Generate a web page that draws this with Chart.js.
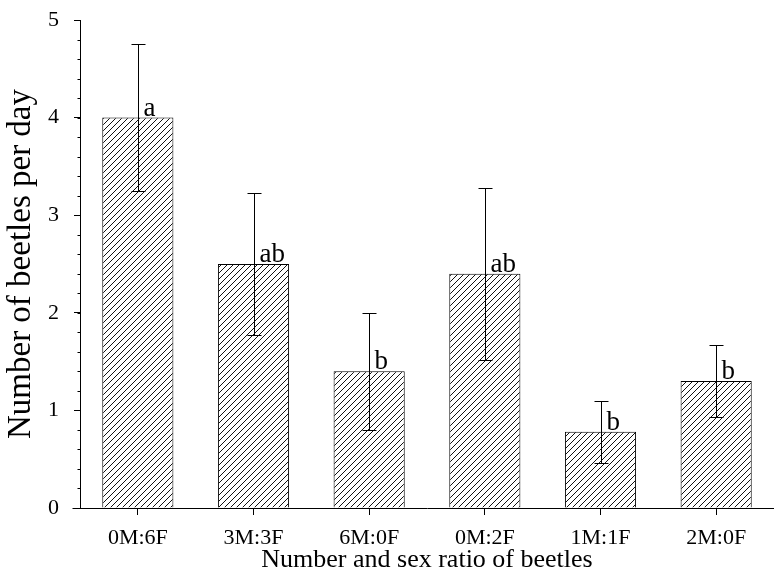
<!DOCTYPE html>
<html>
<head>
<meta charset="utf-8">
<script src="https://cdn.jsdelivr.net/npm/chart.js@4/dist/chart.umd.min.js"></script>
<style>
html,body{margin:0;padding:0;background:#fff;}
#wrap{width:774px;height:578px;}
</style>
</head>
<body>
<div id="wrap"><canvas id="c" width="774" height="578"></canvas></div>
<script>
const categories = ['0M:6F', '3M:3F', '6M:0F', '0M:2F', '1M:1F', '2M:0F'];
const means = [4.0, 2.5, 1.4, 2.4, 0.78, 1.3];
const errors = [0.75, 0.73, 0.6, 0.88, 0.32, 0.37];
const letters = ['a', 'ab', 'b', 'ab', 'b', 'b'];
const yTicks = [0, 1, 2, 3, 4, 5];

const SERIF = '"Liberation Serif", "Times New Roman", serif';

function hatch() {
  const s = 6;
  const p = document.createElement('canvas');
  p.width = s; p.height = s;
  const g = p.getContext('2d');
  g.fillStyle = '#fff';
  g.fillRect(0, 0, s, s);
  g.strokeStyle = '#111';
  g.lineWidth = 1;
  g.beginPath();
  g.moveTo(0, s); g.lineTo(s, 0);
  g.moveTo(-s / 2, s / 2); g.lineTo(s / 2, -s / 2);
  g.moveTo(s / 2, s * 1.5); g.lineTo(s * 1.5, s / 2);
  g.stroke();
  return document.getElementById('c').getContext('2d').createPattern(p, 'repeat');
}

const extras = {
  id: 'extras',
  afterDatasetsDraw(chart) {
    const ctx = chart.ctx;
    const ys = chart.scales.y;
    const meta = chart.getDatasetMeta(0);
    ctx.save();
    ctx.strokeStyle = '#000';
    ctx.lineWidth = 1;
    const x0 = Math.round(chart.chartArea.left) + 0.5;
    // minor ticks on y axis
    for (let k = 0; k <= 25; k++) {
      const y = Math.round(ys.getPixelForValue(k / 5)) + 0.5;
      ctx.beginPath(); ctx.moveTo(x0 - 3, y); ctx.lineTo(x0, y); ctx.stroke();
    }
    // extend x axis line left of y axis
    const yb = Math.round(ys.getPixelForValue(0)) + 0.5;
    ctx.beginPath(); ctx.moveTo(x0 - 8, yb); ctx.lineTo(x0, yb); ctx.stroke();
    // error bars + significance letters
    const cap = 7;
    meta.data.forEach((bar, i) => {
      const x = Math.round(bar.x) + 0.5;
      const yt = Math.round(ys.getPixelForValue(means[i] + errors[i])) + 0.5;
      const yl = Math.round(ys.getPixelForValue(means[i] - errors[i])) + 0.5;
      ctx.beginPath();
      ctx.moveTo(x, yt); ctx.lineTo(x, yl);
      ctx.moveTo(x - cap, yt); ctx.lineTo(x + cap, yt);
      ctx.moveTo(x - cap, yl); ctx.lineTo(x + cap, yl);
      ctx.stroke();
      ctx.fillStyle = '#000';
      ctx.font = '27px ' + SERIF;
      ctx.textAlign = 'left';
      ctx.textBaseline = 'alphabetic';
      ctx.fillText(letters[i], x + 5, ys.getPixelForValue(means[i]) - 2);
    });
    ctx.restore();
  }
};

new Chart(document.getElementById('c'), {
  type: 'bar',
  data: {
    labels: categories,
    datasets: [{
      data: means,
      backgroundColor: hatch(),
      borderColor: '#000',
      borderWidth: 1,
      categoryPercentage: 1,
      barPercentage: 0.615
    }]
  },
  plugins: [extras],
  options: {
    responsive: false,
    animation: false,
    devicePixelRatio: 1,
    layout: { padding: { top: 20, right: 0, left: 0, bottom: 0 } },
    plugins: { legend: { display: false }, tooltip: { enabled: false } },
    scales: {
      x: {
        grid: { offset: false, drawOnChartArea: false, drawTicks: true, tickLength: 7, color: '#000' },
        border: { display: true, color: '#000', width: 1 },
        ticks: { color: '#000', font: { family: SERIF, size: 22 }, padding: 10, maxRotation: 0 },
        title: { display: true, text: 'Number and sex ratio of beetles', color: '#000', font: { family: SERIF, size: 26 }, padding: { top: 0, bottom: 2 } },
        afterFit(s) { s.height = 70; s.paddingLeft = 0; s.paddingRight = 0; }
      },
      y: {
        min: 0, max: 5,
        afterBuildTicks(s) { s.ticks = yTicks.map(v => ({ value: v })); },
        grid: { drawOnChartArea: false, drawTicks: true, tickLength: 6, color: '#000' },
        border: { display: true, color: '#000', width: 1 },
        ticks: { color: '#000', font: { family: SERIF, size: 22 }, padding: 15 },
        title: { display: true, text: 'Number of beetles per day', color: '#000', font: { family: SERIF, size: 33 }, padding: { top: 2, bottom: 0 } },
        afterFit(s) { s.width = 80; s.paddingTop = 0; s.paddingBottom = 0; }
      }
    }
  }
});
</script>
</body>
</html>
